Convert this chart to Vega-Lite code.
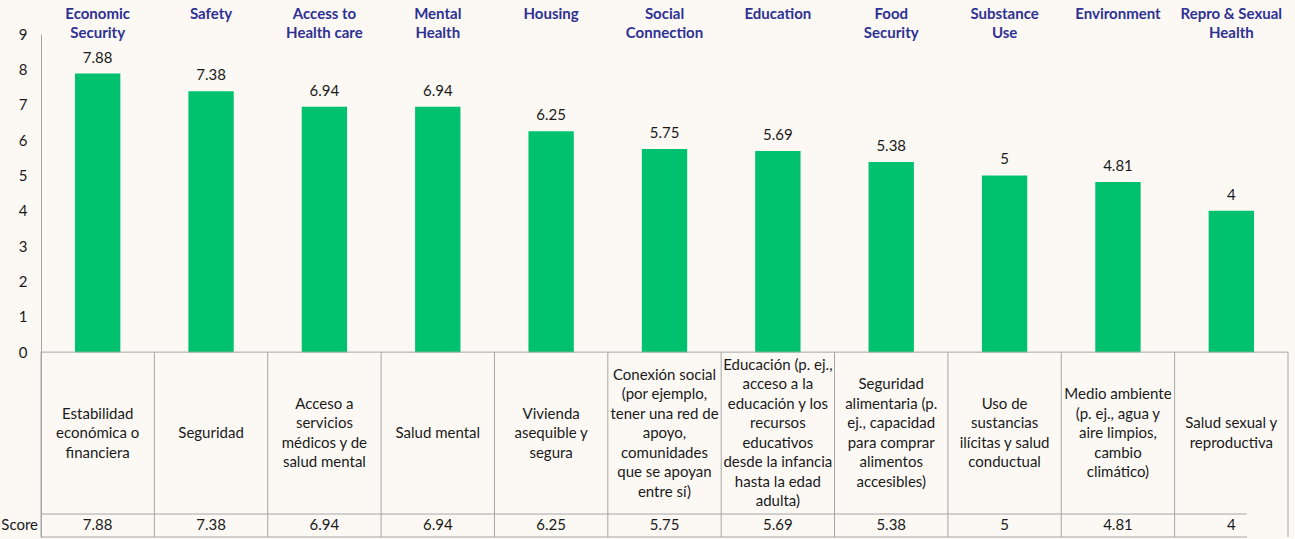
{
  "$schema": "https://vega.github.io/schema/vega-lite/v6.json",
  "width": 1247,
  "height": 503,
  "autosize": {"type": "none"},
  "padding": {"left": 41, "top": 34, "right": 7, "bottom": 2},
  "background": "#FCF9F5",
  "config": {"view": {"stroke": null}, "font": "Lato", "text": {"font": "Lato"}},
  "data": {"values": [
    {"category": "Economic|Security", "label": "Estabilidad|económica o|financiera", "score": 7.88},
    {"category": "Safety", "label": "Seguridad", "score": 7.38},
    {"category": "Access to|Health care", "label": "Acceso a|servicios|médicos y de|salud mental", "score": 6.94},
    {"category": "Mental|Health", "label": "Salud mental", "score": 6.94},
    {"category": "Housing", "label": "Vivienda|asequible y|segura", "score": 6.25},
    {"category": "Social|Connection", "label": "Conexión social|(por ejemplo,|tener una red de|apoyo,|comunidades|que se apoyan|entre sí)", "score": 5.75},
    {"category": "Education", "label": "Educación (p. ej.,|acceso a la|educación y los|recursos|educativos|desde la infancia|hasta la edad|adulta)", "score": 5.69},
    {"category": "Food|Security", "label": "Seguridad|alimentaria (p.|ej., capacidad|para comprar|alimentos|accesibles)", "score": 5.38},
    {"category": "Substance|Use", "label": "Uso de|sustancias|ilícitas y salud|conductual", "score": 5},
    {"category": "Environment", "label": "Medio ambiente|(p. ej., agua y|aire limpios,|cambio|climático)", "score": 4.81},
    {"category": "Repro & Sexual|Health", "label": "Salud sexual y|reproductiva", "score": 4}
  ]},
  "layer": [
    {
      "mark": {"type": "bar", "color": "#00C16E", "width": {"band": 0.4}},
      "encoding": {
        "x": {"field": "category", "type": "nominal", "sort": null, "axis": null,
              "scale": {"paddingInner": 0, "paddingOuter": 0,
                        "domain": ["Economic|Security", "Safety", "Access to|Health care", "Mental|Health", "Housing", "Social|Connection", "Education", "Food|Security", "Substance|Use", "Environment", "Repro & Sexual|Health"]}},
        "y": {"field": "score", "type": "quantitative", "title": null,
              "scale": {"domain": [-5.23, 9], "nice": false, "zero": false},
              "axis": {"values": [0,1,2,3,4,5,6,7,8,9], "grid": false, "ticks": false, "domain": true, "domainColor": "#A6A6A6", "domainWidth": 1, "labelPadding": 14, "labelFontSize": 15, "labelColor": "#1A1A1A", "labelFont": "Lato", "title": null}}
      }
    },
    {
      "mark": {"type": "text", "baseline": "bottom", "dy": -8, "fontSize": 15, "color": "#1A1A1A"},
      "encoding": {
        "x": {"field": "category", "type": "nominal", "sort": null, "axis": null},
        "y": {"field": "score", "type": "quantitative", "title": null},
        "text": {"field": "score", "type": "quantitative"}
      }
    },
    {
      "mark": {"type": "text", "baseline": "top", "align": "center", "dy": -27, "fontSize": 15, "fontWeight": "bold", "color": "#2E3192", "lineBreak": "|", "lineHeight": 19},
      "encoding": {
        "x": {"field": "category", "type": "nominal", "sort": null, "axis": null},
        "y": {"datum": 9, "type": "quantitative", "title": null},
        "text": {"field": "category", "type": "nominal"}
      }
    },
    {
      "mark": {"type": "text", "baseline": "middle", "align": "center", "fontSize": 15, "color": "#1A1A1A", "lineBreak": "|", "lineHeight": 19.5,
               "dy": {"expr": "-(length(split(datum.label, '|')) - 1) * 9.75"}},
      "encoding": {
        "x": {"field": "category", "type": "nominal", "sort": null, "axis": null},
        "y": {"datum": -2.29, "type": "quantitative", "title": null},
        "text": {"field": "label", "type": "nominal"}
      }
    },
    {
      "mark": {"type": "text", "baseline": "middle", "align": "center", "fontSize": 15, "color": "#1A1A1A"},
      "encoding": {
        "x": {"field": "category", "type": "nominal", "sort": null, "axis": null},
        "y": {"datum": -4.9, "type": "quantitative", "title": null},
        "text": {"field": "score", "type": "quantitative"}
      }
    },
    {
      "data": {"values": [{"t": "Score", "c": "Economic|Security"}]},
      "mark": {"type": "text", "baseline": "middle", "align": "right", "dx": -3, "fontSize": 15, "color": "#1A1A1A"},
      "encoding": {
        "x": {"field": "c", "type": "nominal", "bandPosition": 0, "axis": null},
        "y": {"datum": -4.9, "type": "quantitative", "title": null},
        "text": {"field": "t", "type": "nominal"}
      }
    },
    {
      "data": {"values": [{"line": 0}]},
      "mark": {"type": "rule", "color": "#A6A6A6", "strokeWidth": 1},
      "encoding": {
        "y": {"field": "line", "type": "quantitative", "title": null}
      }
    },
    {
      "data": {"values": [{"line": -4.58}, {"line": -5.23}]},
      "mark": {"type": "rule", "color": "#A6A6A6", "strokeWidth": 1, "xOffset": -41},
      "encoding": {
        "y": {"field": "line", "type": "quantitative", "title": null}
      }
    },
    {
      "mark": {"type": "rule", "color": "#A6A6A6", "strokeWidth": 1},
      "encoding": {
        "x": {"field": "category", "type": "nominal", "sort": null, "bandPosition": 0, "axis": null},
        "y": {"datum": 0, "type": "quantitative", "title": null},
        "y2": {"datum": -5.23}
      }
    },
    {
      "data": {"values": [{"c": "Repro & Sexual|Health"}]},
      "mark": {"type": "rule", "color": "#A6A6A6", "strokeWidth": 1},
      "encoding": {
        "x": {"field": "c", "type": "nominal", "bandPosition": 1, "axis": null},
        "y": {"datum": 0, "type": "quantitative", "title": null},
        "y2": {"datum": -5.23}
      }
    }
  ]
}
